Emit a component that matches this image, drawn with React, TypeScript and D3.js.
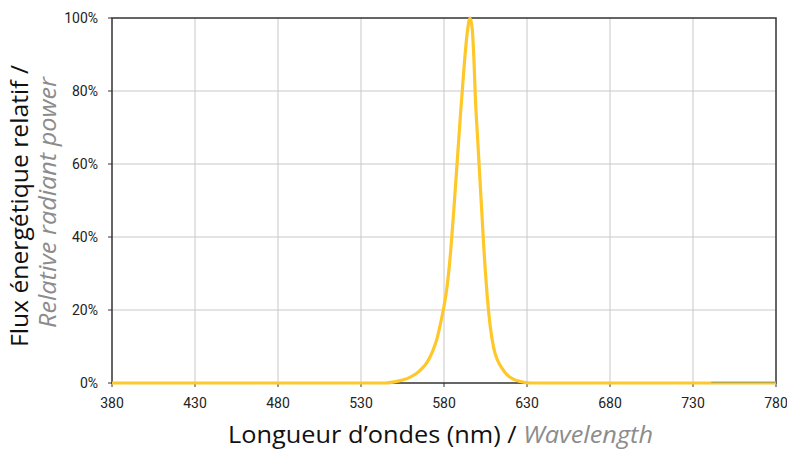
import React from "react";
import * as d3 from "d3";

const wavelengths = [380, 545, 550, 555, 560, 565, 570, 573, 576, 578, 580, 582, 584, 586, 588, 590, 592, 594, 595.7, 597, 598, 599, 600, 601, 602, 603, 604, 605, 606, 607, 608, 610, 612, 615, 618, 622, 626, 632, 780];
const power = [0, 0, 0.003, 0.008, 0.017, 0.032, 0.058, 0.085, 0.125, 0.165, 0.21, 0.27, 0.36, 0.48, 0.61, 0.74, 0.86, 0.96, 1.0, 0.97, 0.89, 0.77, 0.69, 0.61, 0.53, 0.45, 0.37, 0.3, 0.24, 0.19, 0.15, 0.095, 0.065, 0.04, 0.022, 0.01, 0.004, 0, 0];
const tailWl = [741, 780];
const tailVal = [0.002, 0.002];
const xTicks = [380, 430, 480, 530, 580, 630, 680, 730, 780];
const yTicks = [0, 0.2, 0.4, 0.6, 0.8, 1.0];

const W = 787, H = 450;
const m = { left: 112, right: 11, top: 18, bottom: 67 };

export default function App() {
  const x = d3.scaleLinear().domain([380, 780]).range([m.left, W - m.right]);
  const y = d3.scaleLinear().domain([0, 1]).range([H - m.bottom, m.top]);
  const line = d3.line<number>()
    .x((_, i) => x(wavelengths[i]))
    .y((d) => y(d))
    .curve(d3.curveMonotoneX);
  const tail = d3.line<number>().x((_, i) => x(tailWl[i])).y((d) => y(d));
  const font = "Roboto, 'Open Sans', sans-serif";
  const titleFont = "'Open Sans', 'Noto Sans', sans-serif";
  const x0 = x(380), x1 = x(780), y0 = y(0), y1 = y(1);
  return (
    <svg width={W} height={H} style={{ position: "absolute", left: 0, top: 0 }}>
      <rect width={W} height={H} fill="#fff" />
      {xTicks.slice(1, -1).map((t) => (
        <line key={"gx" + t} x1={x(t)} x2={x(t)} y1={y0} y2={y1} stroke="#c8c8c8" strokeWidth={1} />
      ))}
      {yTicks.slice(1, -1).map((t) => (
        <line key={"gy" + t} x1={x0} x2={x1} y1={y(t)} y2={y(t)} stroke="#c8c8c8" strokeWidth={1} />
      ))}
      <rect x={x0} y={y1} width={x1 - x0} height={y0 - y1} fill="none" stroke="#333" strokeWidth={1.5} />
      {xTicks.map((t) => (
        <g key={"xt" + t}>
          <line x1={x(t)} x2={x(t)} y1={y0} y2={y0 + 4} stroke="#333" strokeWidth={1} />
          <text x={x(t)} y={y0 + 25} textAnchor="middle" fontFamily={font} fontSize={14} fill="#222">{t}</text>
        </g>
      ))}
      {yTicks.map((t) => (
        <g key={"yt" + t}>
          <line x1={x0 - 4} x2={x0} y1={y(t)} y2={y(t)} stroke="#333" strokeWidth={1} />
          <text x={x0 - 14} y={y(t)} dy="0.35em" textAnchor="end" fontFamily={font} fontSize={14} fill="#222">{Math.round(t * 100) + "%"}</text>
        </g>
      ))}
      <path d={line(power) || ""} fill="none" stroke="#FEC82A" strokeWidth={3.2} strokeLinejoin="round" />
      <path d={tail(tailVal) || ""} fill="none" stroke="#a8a040" strokeWidth={1} />
      <text x={440.5} y={443} textAnchor="middle" fontFamily={titleFont} fontSize={24} fill="#111" textLength={425} lengthAdjust="spacingAndGlyphs">
        Longueur d’ondes (nm) / <tspan fill="#8c8c8c" fontStyle="italic">Wavelength</tspan>
      </text>
      <g transform="translate(28,206) rotate(-90)">
        <text textAnchor="middle" fontFamily={titleFont} fontSize={24} fill="#111" textLength={282} lengthAdjust="spacingAndGlyphs">Flux énergétique relatif /</text>
      </g>
      <g transform="translate(55.5,202.5) rotate(-90)">
        <text textAnchor="middle" fontFamily={titleFont} fontSize={24} fill="#8c8c8c" fontStyle="italic" textLength={251} lengthAdjust="spacingAndGlyphs">Relative radiant power</text>
      </g>
    </svg>
  );
}
